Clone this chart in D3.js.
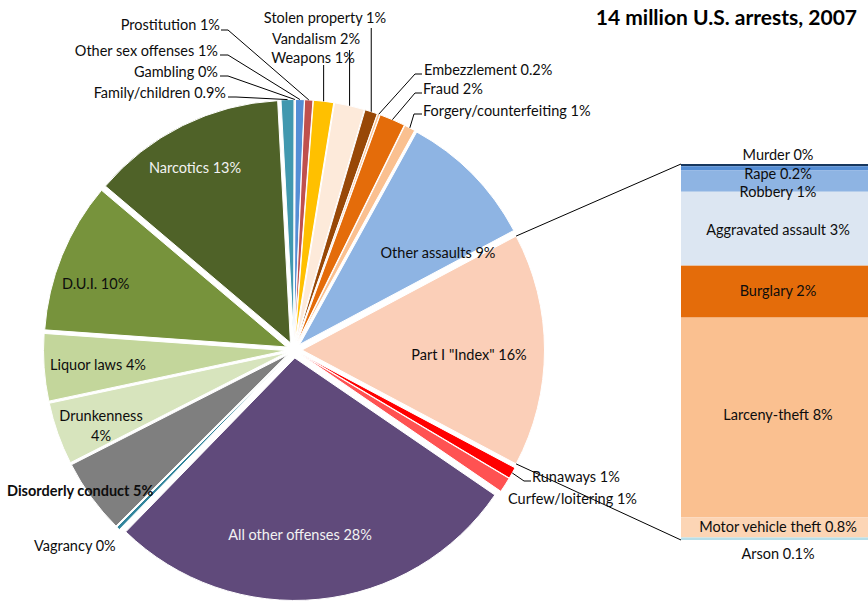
<!DOCTYPE html>
<html>
<head>
<meta charset="utf-8">
<script src="https://cdn.jsdelivr.net/npm/d3@7"></script>
<style>
  body { margin: 0; background: #fff; }
  svg text { font-family: Lato, "Open Sans", sans-serif; }
</style>
</head>
<body>
<div id="chart-container"></div>
<script>
// arrests in thousands, clockwise from Part I
const pieCategories = ['Part I "Index"', 'Runaways', 'Curfew/loitering', 'All other offenses', 'Vagrancy',
  'Disorderly conduct', 'Drunkenness', 'Liquor laws', 'D.U.I.', 'Narcotics', 'Family/children', 'Gambling',
  'Other sex offenses', 'Prostitution', 'Weapons', 'Vandalism', 'Stolen property', 'Embezzlement', 'Fraud',
  'Forgery/counterfeiting', 'Other assaults'];
const pieValues = [2208, 109, 143, 3932, 33, 709, 589, 634, 1427, 1841, 122, 10, 82, 78, 190, 285, 120, 22, 244, 103, 1306];
const pieLabels = ['16%', '1%', '1%', '28%', '0%', '5%', '4%', '4%', '10%', '13%', '0.9%', '0%', '1%', '1%', '1%', '2%', '1%', '0.2%', '2%', '1%', '9%'];
const pieColors = ['#FBCFB8', '#FF0000', '#FF5252', '#604A7B', '#31859C', '#7F7F7F', '#D7E4BD', '#C3D69B', '#77933C',
  '#4F6228', '#4198AF', '#D9B38C', '#558ED5', '#C0504D', '#FFC000', '#FDEADA', '#984807', '#FAC090', '#E46C0A',
  '#FAC090', '#8EB4E3'];

const barCategories = ['Murder', 'Rape', 'Robbery', 'Aggravated assault', 'Burglary', 'Larceny-theft', 'Motor vehicle theft', 'Arson'];
const barValues = [13, 23, 127, 434, 305, 1173, 118, 15];
const barLabels = ['0%', '0.2%', '1%', '3%', '2%', '8%', '0.8%', '0.1%'];
const barColors = ['#17375E', '#558ED5', '#8EB4E3', '#DCE6F2', '#E46C0A', '#FAC090', '#FCD5B5', '#B7DEE8'];

const title = '14 million U.S. arrests, 2007';

const width = 868, height = 601;
const cx = 294, cy = 350, radius = 242.5, explode = 8;
const fontSize = 14.5;

// label placement per slice: x,y = text centre line, anchor, leader = points from label towards slice
const pieLabelLayout = [
  { x: 469, y: 355, anchor: 'middle' },
  { x: 532, y: 477, anchor: 'start', leader: [[531, 481], [524, 481]] },
  { x: 508, y: 499, anchor: 'start' },
  { x: 300, y: 535, anchor: 'middle', fill: '#F2F2F2' },
  { x: 34, y: 546, anchor: 'start' },
  { x: 7, y: 491, anchor: 'start', bold: true },
  { x: 101, y: 416, anchor: 'middle', twoLine: true },
  { x: 50, y: 365, anchor: 'start' },
  { x: 62, y: 284, anchor: 'start' },
  { x: 195, y: 168, anchor: 'middle', fill: '#F2F2F2' },
  { x: 226, y: 93, anchor: 'end', leader: [[228, 97], [236, 97]] },
  { x: 218, y: 72, anchor: 'end', leader: [[220, 76], [228, 76]] },
  { x: 218, y: 51, anchor: 'end', leader: [[220, 55], [228, 55]] },
  { x: 220, y: 25, anchor: 'end', leader: [[221, 30], [228, 30]] },
  { x: 313, y: 58, anchor: 'middle', vertical: 65 },
  { x: 316, y: 39, anchor: 'middle', vertical: 50 },
  { x: 325, y: 18, anchor: 'middle', vertical: 28 },
  { x: 424, y: 70, anchor: 'start', leader: [[422, 74], [415, 74]] },
  { x: 423, y: 89, anchor: 'start', leader: [[422, 93], [415, 93]] },
  { x: 423, y: 111, anchor: 'start', leader: [[422, 114], [414, 114]] },
  { x: 438, y: 253, anchor: 'middle' }
];
const barLabelDy = [-10, 6, 11, 1, -1, -3, 0, 15];

const svg = d3.select('#chart-container')
  .append('svg')
  .attr('width', width)
  .attr('height', height);

const total = d3.sum(pieValues);
const a0 = Math.PI / 2 - Math.PI * pieValues[0] / total;

const pie = d3.pie().sort(null).value(d => d)
  .startAngle(a0).endAngle(a0 + 2 * Math.PI);
const arcs = pie(pieValues);
const arc = d3.arc().innerRadius(0).outerRadius(radius);

const offset = a => {
  const m = (a.startAngle + a.endAngle) / 2;
  return [explode * Math.sin(m), -explode * Math.cos(m)];
};
const polar = (ang, r) => [r * Math.sin(ang), -r * Math.cos(ang)];

const pieG = svg.append('g').attr('transform', `translate(${cx},${cy})`);

pieG.selectAll('.slice')
  .data(arcs)
  .enter().append('path')
  .attr('class', 'slice')
  .attr('transform', d => `translate(${offset(d)})`)
  .attr('d', arc)
  .attr('fill', (d, i) => pieColors[i])
  .attr('stroke', '#fff')
  .attr('stroke-width', 1);

// bar of Part I
const barTop = 164, barBottom = 540, barLeft = 681, barRight = 875;
const barScale = d3.scaleLinear().domain([0, d3.sum(barValues)]).range([barTop, barBottom]);
const stacked = d3.cumsum(barValues);
const barData = barValues.map((v, i) => ({ v, i, y0: stacked[i] - v, y1: stacked[i] }));

svg.selectAll('.bar')
  .data(barData)
  .enter().append('rect')
  .attr('class', 'bar')
  .attr('x', barLeft)
  .attr('width', barRight - barLeft)
  .attr('y', d => barScale(d.y0))
  .attr('height', d => barScale(d.y1) - barScale(d.y0))
  .attr('fill', d => barColors[d.i]);

// connector lines from Part I slice corners to the bar
const p = arcs[0];
const po = offset(p);
const c1 = polar(p.startAngle, radius), c2 = polar(p.endAngle, radius);
svg.append('line')
  .attr('x1', cx + po[0] + c1[0]).attr('y1', cy + po[1] + c1[1])
  .attr('x2', barLeft).attr('y2', barScale(0))
  .attr('stroke', '#000').attr('stroke-width', 1);
svg.append('line')
  .attr('x1', cx + po[0] + c2[0]).attr('y1', cy + po[1] + c2[1])
  .attr('x2', barLeft).attr('y2', barScale(d3.sum(barValues)))
  .attr('stroke', '#000').attr('stroke-width', 1);

// leader lines
arcs.forEach((a, i) => {
  const L = pieLabelLayout[i];
  const m = (a.startAngle + a.endAngle) / 2;
  const o = offset(a);
  const e = polar(m, radius);
  const ex = cx + o[0] + e[0], ey = cy + o[1] + e[1];
  if (L.leader) {
    svg.append('path')
      .attr('d', d3.line()(L.leader.concat([[ex, ey]])))
      .attr('fill', 'none').attr('stroke', '#000').attr('stroke-width', 1);
  } else if (L.vertical) {
    svg.append('line')
      .attr('x1', ex).attr('x2', ex).attr('y1', L.vertical).attr('y2', ey)
      .attr('stroke', '#000').attr('stroke-width', 1);
  }
});

// pie labels
pieLabelLayout.forEach((L, i) => {
  const t = svg.append('text')
    .attr('x', L.x).attr('y', L.y)
    .attr('dy', '0.35em')
    .attr('text-anchor', L.anchor)
    .attr('font-size', fontSize)
    .attr('font-weight', L.bold ? 'bold' : 'normal')
    .attr('fill', L.fill || '#0D0D0D');
  if (L.twoLine) {
    t.text(pieCategories[i]);
    svg.append('text')
      .attr('x', L.x).attr('y', L.y + 20).attr('dy', '0.35em')
      .attr('text-anchor', L.anchor).attr('font-size', fontSize).attr('fill', '#0D0D0D')
      .text(pieLabels[i]);
  } else {
    t.text(pieCategories[i] + ' ' + pieLabels[i]);
  }
});

// bar labels
svg.selectAll('.bar-label')
  .data(barData)
  .enter().append('text')
  .attr('class', 'bar-label')
  .attr('x', 778)
  .attr('y', d => (barScale(d.y0) + barScale(d.y1)) / 2 + barLabelDy[d.i])
  .attr('dy', '0.35em')
  .attr('text-anchor', 'middle')
  .attr('font-size', fontSize)
  .attr('fill', '#0D0D0D')
  .text(d => barCategories[d.i] + ' ' + barLabels[d.i]);

svg.append('text')
  .attr('x', 857)
  .attr('y', 18)
  .attr('dy', '0.35em')
  .attr('text-anchor', 'end')
  .attr('font-size', 21)
  .attr('font-weight', 'bold')
  .attr('fill', '#000')
  .text(title);
</script>
</body>
</html>
